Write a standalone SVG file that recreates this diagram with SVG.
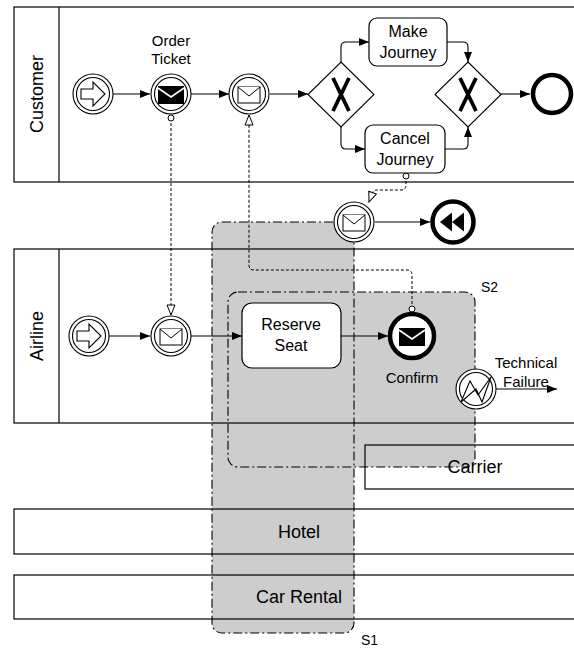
<svg xmlns="http://www.w3.org/2000/svg" width="574" height="648" viewBox="0 0 574 648">
<defs>
<style>
text{font-family:"Liberation Sans",Arial,sans-serif;fill:#000}
.pool{fill:none;stroke:#000;stroke-width:1.2}
.pl{font-size:18px;text-anchor:middle}
.tl{font-size:16px;text-anchor:middle}
.el{font-size:15px;text-anchor:middle}
.grpf{fill:#cdcdcd;stroke:none}
.grps{fill:none;stroke:#000;stroke-width:1.1;stroke-dasharray:9,3,2,3}
.seq{fill:none;stroke:#000;stroke-width:1.1;marker-end:url(#arr)}
.msg{fill:none;stroke:#000;stroke-width:1;stroke-dasharray:3,2;marker-end:url(#oarr)}
.task{fill:#fff;stroke:#000;stroke-width:1.2}
.ev{fill:#fff;stroke:#000;stroke-width:1.1}
.thick{fill:#fff;stroke:#000;stroke-width:4.5}
.env{fill:#fff;stroke:#000;stroke-width:1}
.gw{fill:#fff;stroke:#000;stroke-width:1.1}
.gx{stroke:#000;stroke-width:3.8;fill:none}
</style>
<marker id="arr" viewBox="0 0 10 10" refX="10" refY="5" markerWidth="10" markerHeight="10" markerUnits="userSpaceOnUse" orient="auto">
<path d="M0,1 L10,5 L0,9 Z" fill="#000"/>
</marker>
<marker id="oarr" viewBox="0 0 12 10" refX="11" refY="5" markerWidth="12" markerHeight="10" markerUnits="userSpaceOnUse" orient="auto">
<path d="M1,1 L11,5 L1,9 Z" fill="#fff" stroke="#000" stroke-width="1"/>
</marker>
<g id="envW"><rect x="-11" y="-8" width="22" height="16" class="env"/><polyline points="-11,-8 0,1 11,-8" class="env"/></g>
<g id="envB"><rect x="-13" y="-9" width="26" height="18" fill="#000"/><polyline points="-13,-7 0,2 13,-7" fill="none" stroke="#fff" stroke-width="1.6"/></g>
</defs>

<g id="groups">
<rect class="grpf" x="212" y="222" width="142" height="411" rx="10"/>
<rect class="grpf" x="228" y="292" width="247" height="175" rx="10"/>
<rect class="grps" x="212" y="222" width="142" height="411" rx="10"/>
<rect class="grps" x="228" y="292" width="247" height="175" rx="10"/>
<text x="481" y="292" font-size="14">S2</text>
<text x="361" y="645" font-size="14">S1</text>
</g>

<g id="pool-customer">
<rect class="pool" x="14" y="7" width="600" height="175"/>
<line class="pool" x1="59" y1="7" x2="59" y2="182"/>
<text class="pl" transform="translate(43,94) rotate(-90)">Customer</text>
</g>
<g id="pool-airline">
<rect class="pool" x="14" y="249" width="600" height="174"/>
<line class="pool" x1="59" y1="249" x2="59" y2="423"/>
<text class="pl" transform="translate(43,336) rotate(-90)">Airline</text>
</g>
<g id="pool-carrier">
<rect class="pool" x="365" y="445" width="249" height="44"/>
<text class="pl" x="475" y="473">Carrier</text>
</g>
<g id="pool-hotel">
<rect class="pool" x="14" y="509" width="600" height="45"/>
<text class="pl" x="299" y="538">Hotel</text>
</g>
<g id="pool-car-rental">
<rect class="pool" x="14" y="575" width="600" height="44"/>
<text class="pl" x="299" y="603">Car Rental</text>
</g>

<g id="connectors">
<line class="seq" x1="113" y1="94" x2="150" y2="94"/>
<line class="seq" x1="191" y1="94" x2="229" y2="94"/>
<line class="seq" x1="270" y1="94" x2="308" y2="94"/>
<path class="seq" d="M341,62 L341,47 Q341,42 346,42 L369,42"/>
<path class="seq" d="M341,127 L341,144 Q341,149 346,149 L365,149"/>
<path class="seq" d="M447,42 L463,42 Q468,42 468,47 L468,62"/>
<path class="seq" d="M445,149 L463,149 Q468,149 468,144 L468,127"/>
<line class="seq" x1="501" y1="94" x2="530" y2="94"/>
<line class="seq" x1="375" y1="222" x2="430" y2="222"/>
<line class="seq" x1="109" y1="336" x2="150" y2="336"/>
<line class="seq" x1="191" y1="336" x2="242" y2="336"/>
<line class="seq" x1="341" y1="336" x2="388" y2="336"/>
<line class="seq" x1="496" y1="389" x2="557" y2="389"/>
<path class="msg" d="M171,118 L171,315"/>
<circle cx="171" cy="118" r="3" fill="#fff" stroke="#000" stroke-width="1"/>
<path class="msg" d="M412,309 L412,275 Q412,270 407,270 L254,270 Q249,270 249,265 L249,115"/>
<circle cx="412" cy="309" r="3" fill="#fff" stroke="#000" stroke-width="1"/>
<path class="msg" d="M406,176 L406,185 Q406,190 401,190 L377,190 Q373,190 372,194 L369,202"/>
<circle cx="406" cy="176" r="3" fill="#fff" stroke="#000" stroke-width="1"/>
</g>

<g id="customer-start">
<circle class="ev" cx="93" cy="94" r="20"/>
<circle class="ev" cx="93" cy="94" r="16.5"/>
<polygon class="ev" points="81,89 93,89 93,82 105,94 93,106 93,99 81,99"/>
</g>
<g id="order-ticket">
<circle class="ev" cx="171" cy="94" r="20"/>
<circle class="ev" cx="171" cy="94" r="16.5"/>
<use href="#envB" x="171" y="95"/>
<text class="el" x="171" y="46">Order</text>
<text class="el" x="171" y="64">Ticket</text>
</g>
<g id="customer-receive">
<circle class="ev" cx="249" cy="94" r="20"/>
<circle class="ev" cx="249" cy="94" r="16.5"/>
<use href="#envW" x="249" y="95"/>
</g>
<g id="gateway-split">
<polygon class="gw" points="341,62 374,94.5 341,127 308,94.5"/>
<path class="gx" d="M333,78 L349,111 M349,78 L333,111"/>
</g>
<g id="make-journey">
<rect class="task" x="369" y="18" width="78" height="48" rx="8"/>
<text class="tl" x="408" y="37">Make</text>
<text class="tl" x="408" y="58">Journey</text>
</g>
<g id="cancel-journey">
<rect class="task" x="365" y="125" width="80" height="48" rx="8"/>
<text class="tl" x="405" y="144">Cancel</text>
<text class="tl" x="405" y="165">Journey</text>
</g>
<g id="gateway-join">
<polygon class="gw" points="468,62 501,94.5 468,127 435,94.5"/>
<path class="gx" d="M460,78 L476,111 M476,78 L460,111"/>
</g>
<g id="customer-end">
<circle class="thick" cx="552" cy="94" r="19"/>
</g>

<g id="cancel-message">
<circle class="ev" cx="354" cy="222" r="20"/>
<circle class="ev" cx="354" cy="222" r="16.5"/>
<use href="#envW" x="354" y="223"/>
</g>
<g id="compensation-end">
<circle class="thick" cx="453" cy="222" r="20.5"/>
<polygon points="440,222 452,212.5 452,231.5" fill="#000"/>
<polygon points="452,222 464,212.5 464,231.5" fill="#000"/>
</g>

<g id="airline-start">
<circle class="ev" cx="89" cy="336" r="20"/>
<circle class="ev" cx="89" cy="336" r="16.5"/>
<polygon class="ev" points="77,331 89,331 89,324 101,336 89,348 89,341 77,341"/>
</g>
<g id="airline-receive">
<circle class="ev" cx="171" cy="336" r="20"/>
<circle class="ev" cx="171" cy="336" r="16.5"/>
<use href="#envW" x="171" y="337"/>
</g>
<g id="reserve-seat">
<rect class="task" x="242" y="303" width="99" height="65" rx="10"/>
<text class="tl" x="291" y="330">Reserve</text>
<text class="tl" x="291" y="351">Seat</text>
</g>
<g id="confirm">
<circle class="thick" cx="412" cy="336" r="22"/>
<use href="#envB" x="412" y="337"/>
<text class="el" x="412" y="383">Confirm</text>
</g>
<g id="technical-failure">
<circle class="ev" cx="476" cy="389" r="20"/>
<circle class="ev" cx="476" cy="389" r="16.5"/>
<polygon class="ev" points="461,402 470,381 478,395 491,377 482,402 476,389"/>
<text class="el" x="526" y="368">Technical</text>
<text class="el" x="526" y="387">Failure</text>
</g>
</svg>
